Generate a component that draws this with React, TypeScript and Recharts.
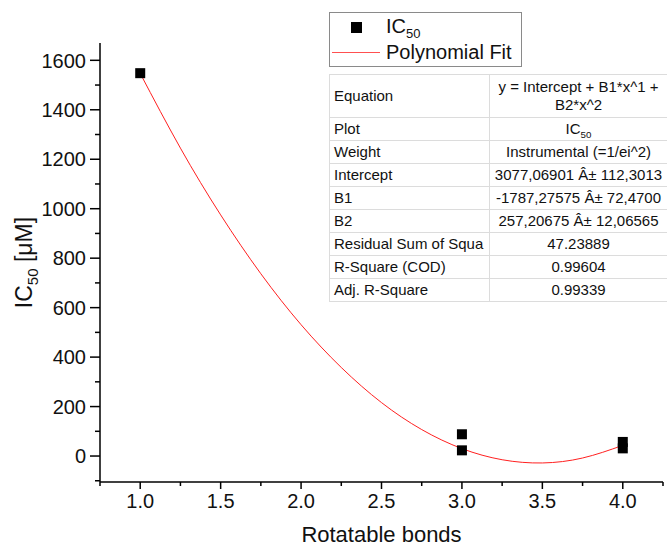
import React from 'react'
import { ComposedChart, Scatter, Line, XAxis, YAxis } from 'recharts'

// measured IC50 values per number of rotatable bonds
const ic50Points = [
  { x: 1, y: 1548 },
  { x: 3, y: 88 },
  { x: 3, y: 23 },
  { x: 4, y: 57 },
  { x: 4, y: 31 },
]

// polynomial fit curve
const fitX = [1, 1.25, 1.5, 1.75, 2, 2.25, 2.5, 2.75, 3, 3.25, 3.5, 3.75, 4]
const fitY = [1547, 1245, 975, 737, 531, 358, 216, 107, 30, -15, -28, -8, 43]
const fitCurve = fitX.map((x, i) => ({ x, y: fitY[i] }))

const xTicks = [0.75, 1, 1.25, 1.5, 1.75, 2, 2.25, 2.5, 2.75, 3, 3.25, 3.5, 3.75, 4, 4.25]
const yTicks = [-100, 0, 100, 200, 300, 400, 500, 600, 700, 800, 900, 1000, 1100, 1200, 1300, 1400, 1500, 1600]

const tableLabels = ['Plot', 'Weight', 'Intercept', 'B1', 'B2', 'Residual Sum of Squa', 'R-Square (COD)', 'Adj. R-Square']
const tableValues = [
  'IC50',
  'Instrumental (=1/ei^2)',
  '3077,06901 Â± 112,3013',
  '-1787,27575 Â± 72,4700',
  '257,20675 Â± 12,06565',
  '47.23889',
  '0.99604',
  '0.99339',
]

const FONT = '"Liberation Sans", Arial, sans-serif'

function XTick({ x, y, payload }: any) {
  const v = payload.value
  const major = Math.abs(v * 2 - Math.round(v * 2)) < 1e-6
  return (
    <g>
      <line x1={x} x2={x} y1={y} y2={y + (major ? 7 : 4)} stroke="#000" strokeWidth={1.5} />
      {major && (
        <text x={x} y={y + 26} textAnchor="middle" fontSize={20} fill="#111" fontFamily={FONT}>
          {v.toFixed(1)}
        </text>
      )}
    </g>
  )
}

function YTick({ x, y, payload }: any) {
  const v = payload.value
  const major = v % 200 === 0
  return (
    <g>
      <line x1={x} x2={x - (major ? 10 : 5)} y1={y} y2={y} stroke="#000" strokeWidth={1.5} />
      {major && (
        <text x={x - 14} y={y} dy="0.36em" textAnchor="end" fontSize={20} fill="#111" fontFamily={FONT}>
          {v}
        </text>
      )}
    </g>
  )
}

function YTitle({ viewBox }: any) {
  const cy = viewBox.y + viewBox.height / 2
  const cx = 24
  return (
    <text
      x={cx}
      y={cy}
      transform={`rotate(-90, ${cx}, ${cy})`}
      textAnchor="middle"
      dy="0.35em"
      fontSize={23}
      fill="#111"
      fontFamily={FONT}
    >
      IC<tspan fontSize={15} dy={6}>50</tspan>
      <tspan dy={-6}> [μM]</tspan>
    </text>
  )
}

function Square({ cx, cy }: any) {
  return <rect x={cx - 5} y={cy - 5} width={10} height={10} fill="#000" />
}

function Ic50Text({ size }: { size: number }) {
  return (
    <span>
      IC<sub style={{ fontSize: size * 0.65, verticalAlign: 'sub', lineHeight: 0 }}>50</sub>
    </span>
  )
}

const cell = {
  border: '1px solid #dcdcdc',
  padding: 0,
  lineHeight: '20px',
  whiteSpace: 'nowrap' as const,
  overflow: 'hidden',
}

export default function App() {
  return (
    <div
      style={{
        position: 'absolute',
        left: 0,
        top: 0,
        width: 667,
        height: 547,
        overflow: 'hidden',
        background: '#fff',
        fontFamily: FONT,
      }}
    >
      <ComposedChart width={667} height={547} margin={{ top: 43, right: 4, bottom: 0, left: 0 }}>
        <XAxis
          type="number"
          dataKey="x"
          domain={[0.75, 4.25]}
          ticks={xTicks}
          interval={0}
          allowDataOverflow
          height={65}
          tickSize={0}
          tickMargin={0}
          tick={<XTick />}
          axisLine={{ stroke: '#000', strokeWidth: 1.5 }}
          label={{
            value: 'Rotatable bonds',
            position: 'insideBottom',
            offset: 5,
            fontSize: 22,
            fill: '#111',
            fontFamily: FONT,
          }}
        />
        <YAxis
          type="number"
          dataKey="y"
          domain={[-105, 1670]}
          ticks={yTicks}
          interval={0}
          allowDataOverflow
          width={100}
          tickSize={0}
          tickMargin={0}
          tick={<YTick />}
          axisLine={{ stroke: '#000', strokeWidth: 1.5 }}
          label={<YTitle />}
        />
        <Line
          data={fitCurve}
          dataKey="y"
          type="natural"
          stroke="#ff2020"
          strokeWidth={1}
          dot={false}
          activeDot={false}
          isAnimationActive={false}
        />
        <Scatter data={ic50Points} dataKey="y" shape={<Square />} isAnimationActive={false} />
      </ComposedChart>

      {/* legend */}
      <div
        style={{
          position: 'absolute',
          left: 329,
          top: 12,
          width: 191,
          height: 53,
          border: '1.5px solid #8a8a8a',
          fontSize: 20,
          color: '#111',
        }}
      >
        <div style={{ position: 'absolute', left: 21, top: 9, width: 11, height: 11, background: '#000' }} />
        <div style={{ position: 'absolute', left: 56, top: 1, lineHeight: '24px' }}>
          <Ic50Text size={20} />
        </div>
        <div style={{ position: 'absolute', left: 2, top: 39, width: 48, height: 1, background: '#ff5050' }} />
        <div style={{ position: 'absolute', left: 56, top: 27, lineHeight: '24px' }}>Polynomial Fit</div>
      </div>

      {/* fit parameters table */}
      <table
        style={{
          position: 'absolute',
          left: 329,
          top: 74,
          width: 338,
          tableLayout: 'fixed',
          borderCollapse: 'collapse',
          border: '1.5px solid #8a8a8a',
          fontSize: 15,
          color: '#111',
          fontFamily: FONT,
        }}
      >
        <colgroup>
          <col style={{ width: 160 }} />
          <col style={{ width: 178 }} />
        </colgroup>
        <tbody>
          <tr style={{ height: 43 }}>
            <td style={{ ...cell, paddingLeft: 4 }}>Equation</td>
            <td style={{ ...cell, textAlign: 'center', lineHeight: '18px' }}>
              y = Intercept + B1*x^1 +<br />
              B2*x^2
            </td>
          </tr>
          {tableLabels.map((label, i) => (
            <tr key={label} style={{ height: 23 }}>
              <td style={{ ...cell, paddingLeft: 4 }}>{label}</td>
              <td style={{ ...cell, textAlign: 'center' }}>
                {tableValues[i] === 'IC50' ? <Ic50Text size={15} /> : tableValues[i]}
              </td>
            </tr>
          ))}
        </tbody>
      </table>
    </div>
  )
}
